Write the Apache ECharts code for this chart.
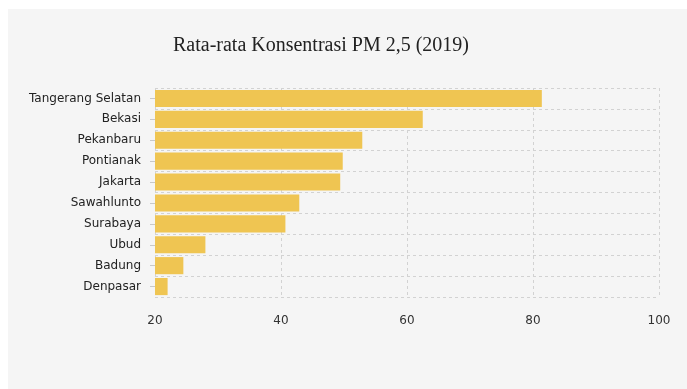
<!DOCTYPE html>
<html>
<head>
<meta charset="utf-8">
<script src="https://cdn.jsdelivr.net/npm/echarts@6/dist/echarts.min.js"></script>
<style>html,body{margin:0;padding:0;background:#fff;}#c{width:687px;height:389px;}</style>
</head>
<body>
<div id="c"></div>
<script>
const titleText = 'Rata-rata Konsentrasi PM 2,5 (2019)';
const cities = ['Tangerang Selatan','Bekasi','Pekanbaru','Pontianak','Jakarta','Sawahlunto','Surabaya','Ubud','Badung','Denpasar'];
const values = [81.4, 62.5, 52.9, 49.8, 49.4, 42.9, 40.7, 28.0, 24.5, 22.0];
const xTicks = [20, 40, 60, 80, 100];

const chart = echarts.init(document.getElementById('c'), null, {renderer: 'canvas'});
chart.setOption({
  backgroundColor: '#ffffff',
  graphic: [{
    type: 'rect', z: -10, silent: true,
    shape: {x: 8, y: 9, width: 687, height: 389},
    style: {fill: '#f5f5f5'}
  }],
  title: {
    text: titleText, left: 316, top: 31, textAlign: 'center',
    textStyle: {fontFamily: 'Liberation Serif', fontSize: 20, fontWeight: 'normal', color: '#222'}
  },
  grid: {left: 155, right: 28, top: 88, bottom: 92, containLabel: false},
  xAxis: {
    type: 'value', min: xTicks[0], max: xTicks[xTicks.length - 1], interval: 20,
    axisLine: {show: false}, axisTick: {show: false},
    axisLabel: {fontFamily: 'DejaVu Sans', fontSize: 12, color: '#333', margin: 18},
    splitLine: {show: true, lineStyle: {color: '#d2d2d2', type: [3, 3], width: 1}}
  },
  yAxis: {
    type: 'category', data: cities, inverse: true,
    axisLine: {show: false},
    axisTick: {show: true, alignWithLabel: true, length: 5, lineStyle: {color: '#c8c8c8'}},
    axisLabel: {fontFamily: 'DejaVu Sans', fontSize: 12, color: '#222', margin: 14},
    splitLine: {show: true, lineStyle: {color: '#d2d2d2', type: [3, 3], width: 1}}
  },
  series: [{
    type: 'bar', data: values, barCategoryGap: '18%',
    itemStyle: {color: '#efc552'}, z: 1
  }]
});
</script>
</body>
</html>
